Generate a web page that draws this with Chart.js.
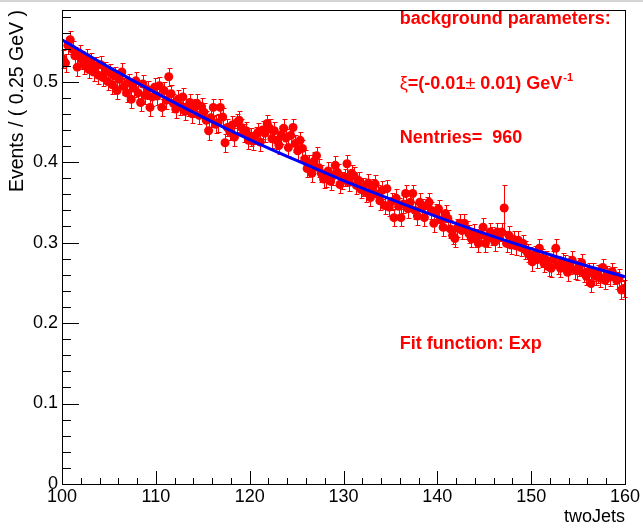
<!DOCTYPE html>
<html>
<head>
<meta charset="utf-8">
<title>twoJets background fit</title>
<script src="https://cdn.jsdelivr.net/npm/chart.js@4.4.1/dist/chart.umd.min.js"></script>
<style>
  html, body { margin: 0; padding: 0; background: #fff; }
  canvas { display: block; }
</style>
</head>
<body>
<canvas id="fitChart" width="643" height="528"></canvas>
<script>
// binning of the twoJets histogram (0.25 GeV bins)
const binLow = 100
const binWidth = 0.25

// events / bin, 40 bins per 10 GeV
const events100 = [0.528,0.523,0.545,0.552,0.540,0.532,0.518,0.535,0.527,0.521,0.530,0.515,0.524,0.512,0.519,0.508,0.521,0.505,0.513,0.500,
  0.511,0.496,0.507,0.489,0.503,0.512,0.494,0.486,0.499,0.478,0.492,0.501,0.486,0.474,0.497,0.483,0.490,0.468,0.481,0.493]
const events110 = [0.482,0.495,0.468,0.489,0.477,0.506,0.485,0.473,0.466,0.478,0.470,0.481,0.463,0.468,0.474,0.460,0.467,0.473,0.458,0.469,
  0.462,0.452,0.439,0.455,0.468,0.447,0.449,0.468,0.456,0.424,0.443,0.438,0.446,0.431,0.449,0.452,0.443,0.436,0.439,0.427]
const events120 = [0.431,0.426,0.433,0.437,0.425,0.440,0.436,0.448,0.442,0.429,0.439,0.427,0.421,0.434,0.442,0.430,0.418,0.433,0.443,0.423,
  0.414,0.427,0.417,0.404,0.392,0.398,0.386,0.401,0.408,0.393,0.386,0.379,0.380,0.389,0.376,0.383,0.396,0.387,0.372,0.377]
const events130 = [0.381,0.398,0.375,0.386,0.383,0.371,0.377,0.366,0.369,0.362,0.374,0.356,0.368,0.373,0.360,0.352,0.365,0.346,0.367,0.344,
  0.351,0.331,0.355,0.345,0.331,0.348,0.361,0.342,0.350,0.361,0.340,0.333,0.350,0.343,0.331,0.346,0.350,0.340,0.324,0.337]
const events140 = [0.342,0.328,0.319,0.336,0.330,0.317,0.309,0.305,0.318,0.324,0.315,0.324,0.316,0.311,0.305,0.312,0.306,0.299,0.309,0.319,
  0.299,0.305,0.313,0.308,0.301,0.313,0.306,0.313,0.343,0.299,0.309,0.297,0.304,0.296,0.303,0.294,0.299,0.291,0.287,0.284]
const events150 = [0.276,0.285,0.279,0.293,0.281,0.274,0.278,0.270,0.268,0.279,0.293,0.272,0.268,0.276,0.274,0.263,0.272,0.278,0.266,0.265,
  0.270,0.275,0.262,0.258,0.264,0.249,0.263,0.258,0.261,0.256,0.269,0.253,0.260,0.257,0.264,0.259,0.253,0.256,0.241,0.243]

// error bar half-size, with the one big outlier
const errTypical = 0.011
const errLarge = [[147.125, 0.029]]

// exponential fit, every 5 GeV
const fitX = [100, 105, 110, 115, 120, 125, 130, 135, 140, 145, 150, 155, 160]
const fitY = [0.552, 0.518, 0.486, 0.456, 0.428, 0.402, 0.377, 0.354, 0.332, 0.3115, 0.2923, 0.2743, 0.2575]

const xTicks = [100, 110, 120, 130, 140, 150, 160]
const yTicks = [0, 0.1, 0.2, 0.3, 0.4, 0.5]

const RED = '#ff0000'
const BLUE = '#0000ff'
const FONT = '"Liberation Sans", Arial, Helvetica, sans-serif'

const events = [...events100, ...events110, ...events120, ...events130, ...events140, ...events150]
const points = events.map((v, i) => {
  const x = binLow + binWidth * (i + 0.5)
  const big = errLarge.find(e => Math.abs(e[0] - x) < 1e-6)
  return {x, y: v, err: big ? big[1] : errTypical}
})

const rootStyle = {
  id: 'rootStyle',
  beforeDraw(chart) {
    const {ctx} = chart
    ctx.save()
    ctx.fillStyle = '#fff'
    ctx.fillRect(0, 0, chart.width, chart.height)
    ctx.fillStyle = '#d4d4d4'
    ctx.fillRect(0, 0, chart.width, 2)
    ctx.restore()
  },
  beforeDatasetsDraw(chart) {
    // error bars go under the markers
    const {ctx, scales: {x, y}} = chart
    ctx.save()
    ctx.strokeStyle = RED
    ctx.lineWidth = 1
    ctx.beginPath()
    points.forEach(p => {
      const px = Math.round(x.getPixelForValue(p.x)) + 0.5
      const hi = Math.round(y.getPixelForValue(p.y + p.err)) + 0.5
      const lo = Math.round(y.getPixelForValue(p.y - p.err)) + 0.5
      ctx.moveTo(px, lo); ctx.lineTo(px, hi)
      ctx.moveTo(px - 2, hi); ctx.lineTo(px + 3, hi)
      ctx.moveTo(px - 2, lo); ctx.lineTo(px + 3, lo)
    })
    ctx.stroke()
    ctx.restore()
  },
  afterDraw(chart) {
    const {ctx, chartArea: a, scales: {x, y}} = chart
    ctx.save()
    // frame
    ctx.strokeStyle = '#000'
    ctx.lineWidth = 1
    ctx.strokeRect(Math.round(a.left) + 0.5, Math.round(a.top) + 0.5, Math.round(a.right - a.left), Math.round(a.bottom - a.top))
    // ticks, drawn inside the frame like ROOT
    ctx.beginPath()
    for (let v = 100; v <= 160; v += 2) {
      const px = Math.round(x.getPixelForValue(v)) + 0.5
      const len = v % 10 === 0 ? 13 : 6
      ctx.moveTo(px, a.bottom); ctx.lineTo(px, a.bottom - len)
    }
    for (let k = 0; k <= 29; k++) {
      const v = k * 0.02
      const py = Math.round(y.getPixelForValue(v)) + 0.5
      const len = k % 5 === 0 ? 17 : 9
      ctx.moveTo(a.left, py); ctx.lineTo(a.left + len, py)
    }
    ctx.stroke()

    // fit box text
    const tx = a.left + 0.6 * (a.right - a.left)
    ctx.fillStyle = RED
    ctx.textBaseline = 'alphabetic'
    ctx.textAlign = 'left'
    const bold = 'bold 18px ' + FONT
    const plain = '18px ' + FONT
    ctx.font = bold
    ctx.fillText('background parameters:', tx, a.top + 14)
    ctx.fillText('Nentries=  960', tx, a.top + 133)
    ctx.fillText('Fit function: Exp', tx, a.top + 339)

    let cx = tx
    const base = a.top + 79
    const seg = (txt, font, dy = 0) => {
      ctx.font = font
      ctx.fillText(txt, cx, base + dy)
      cx += ctx.measureText(txt).width
    }
    seg('\u03be', plain)
    seg('=(-0.01', bold)
    seg('\u00b1', plain)
    seg(' 0.01) GeV', bold)
    cx += 1
    seg('-1', 'bold 11px ' + FONT, -8)
    ctx.restore()
  }
}

new Chart(document.getElementById('fitChart'), {
  type: 'scatter',
  data: {
    datasets: [
      {
        label: 'fit',
        type: 'line',
        data: fitX.map((v, i) => ({x: v, y: fitY[i]})),
        borderColor: BLUE,
        borderWidth: 3,
        pointRadius: 0,
        fill: false,
        cubicInterpolationMode: 'monotone',
        order: 0
      },
      {
        label: 'data',
        data: points.map(p => ({x: p.x, y: p.y})),
        backgroundColor: RED,
        borderColor: RED,
        borderWidth: 0,
        pointRadius: 4.5,
        order: 1
      }
    ]
  },
  options: {
    responsive: false,
    animation: false,
    devicePixelRatio: 1,
    layout: {padding: {left: 0, top: 10, right: 18, bottom: 0}},
    plugins: {legend: {display: false}, tooltip: {enabled: false}},
    scales: {
      x: {
        type: 'linear',
        min: 100,
        max: 160,
        afterBuildTicks: s => { s.ticks = xTicks.map(v => ({value: v})) },
        afterFit: s => { s.height = 44; s.paddingLeft = 0; s.paddingRight = 0 },
        grid: {display: false, drawTicks: false},
        border: {display: false},
        ticks: {color: '#000', font: {family: FONT, size: 18}, padding: 2, maxRotation: 0, autoSkip: false},
        title: {display: true, text: 'twoJets', align: 'end', color: '#000', font: {family: FONT, size: 18}, padding: {top: 0, bottom: 0}}
      },
      y: {
        min: 0,
        max: 0.589,
        afterBuildTicks: s => { s.ticks = yTicks.map(v => ({value: v})) },
        afterFit: s => { s.width = 62; s.paddingTop = 0; s.paddingBottom = 0 },
        grid: {display: false, drawTicks: false},
        border: {display: false},
        ticks: {color: '#000', font: {family: FONT, size: 18}, padding: 4, callback: v => String(Math.round(v * 10) / 10)},
        title: {display: true, text: 'Events / ( 0.25 GeV )', align: 'end', color: '#000', font: {family: FONT, size: 19.5}, padding: {top: 6, bottom: 0}}
      }
    }
  },
  plugins: [rootStyle]
})
</script>
</body>
</html>
